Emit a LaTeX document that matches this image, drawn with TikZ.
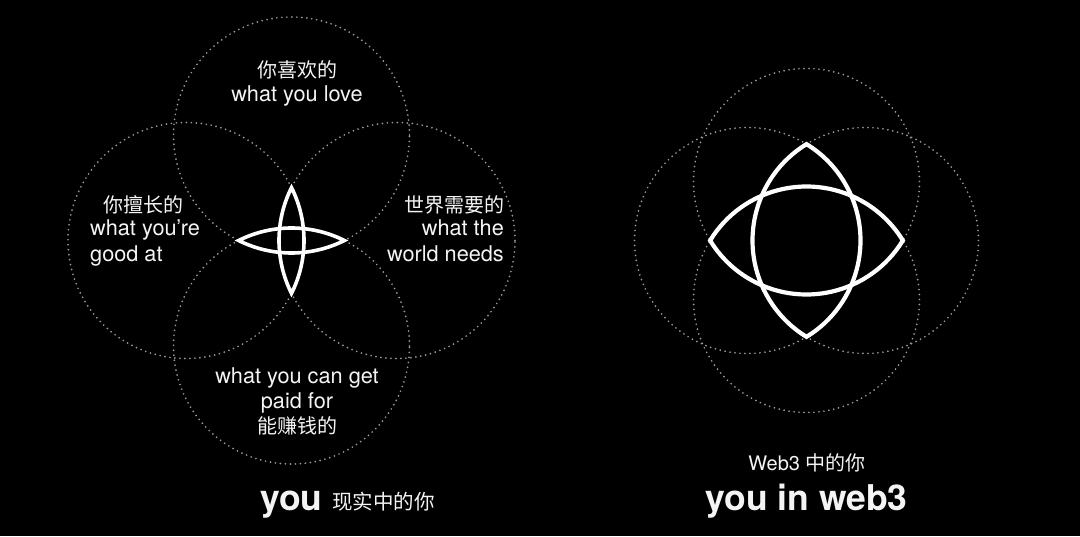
\documentclass[tikz,border=0pt]{standalone}
\usepackage{fontspec}
\setmainfont{TeX Gyre Heros}
\newfontfamily\cjk{Noto Sans CJK SC}
\definecolor{dotgray}{HTML}{9A9A9A}
\definecolor{txt}{HTML}{F4F4F4}
\newcommand\vennset[5]{%
  \pgfmathsetmacro\hh{sqrt(#4*#4-#3*#3)}%
  \pgfmathsetmacro\aa{atan(\hh/#3)}%
  \draw[dotc] (#1,#2+#3) circle[radius=#4];
  \draw[dotc] (#1,#2-#3) circle[radius=#4];
  \draw[dotc] (#1-#3,#2) circle[radius=#4];
  \draw[dotc] (#1+#3,#2) circle[radius=#4];
  \draw[lensline=#5] (#1,#2+\hh) arc[start angle=180-\aa, end angle=180+\aa, radius=#4]
     arc[start angle=-\aa, end angle=\aa, radius=#4] -- cycle;
  \draw[lensline=#5] (#1-\hh,#2) arc[start angle=90+\aa, end angle=90-\aa, radius=#4]
     arc[start angle=\aa-90, end angle=-90-\aa, radius=#4] -- cycle;
}
\begin{document}
\begin{tikzpicture}[x=1pt,y=1pt,
  dotc/.style={draw=dotgray, line width=1.9pt, line cap=round, dash pattern=on 0pt off 5pt},
  lensline/.style={draw=white, line width=#1, line join=miter, miter limit=30},
  lbl/.style={text=txt, font=\fontsize{21.7}{26}\selectfont, inner sep=0pt, anchor=base},
  clbl/.style={text=txt, font=\fontsize{20}{24}\selectfont\cjk, inner sep=0pt, anchor=base},
  ttl/.style={text=txt, font=\fontsize{35.5}{42}\selectfont\bfseries, inner sep=0pt, anchor=base}]
\fill[black] (0,0) rectangle (1080,536);
\useasboundingbox (0,0) rectangle (1080,536);
% left diagram
\vennset{291.5}{295.5}{105.5}{118}{3.6pt}
% right diagram
\vennset{806.5}{295.5}{59}{113}{4.2pt}
% top labels
\node[clbl] (t1) at (297,458.5) {你喜欢的};
\node[lbl] (t2) at (297,434.3) {what you love};
% left labels
\node[clbl, anchor=base west] (l1) at (103,323) {你擅长的};
\node[lbl, anchor=base west] (l2) at (90,300) {what you’re};
\node[lbl, anchor=base west] (l3) at (90,274) {good at};
% right labels
\node[clbl, anchor=base east] (r1) at (505,323) {世界需要的};
\node[lbl, anchor=base east] (r2) at (504,300) {what the};
\node[lbl, anchor=base east] (r3) at (504,274) {world needs};
% bottom labels
\node[lbl] (b1) at (297,152) {what you can get};
\node[lbl] (b2) at (297,127) {paid for};
\node[clbl] (b3) at (297,102) {能赚钱的};
% titles
\node[ttl, anchor=base west] (you) at (260,26) {you};
\node[clbl, anchor=base west, font=\fontsize{20.5}{24}\selectfont\cjk] (youcn) at (332,27) {现实中的你};
\node[lbl, font=\fontsize{20}{24}\selectfont] (w3cn) at (807,65) {Web3 {\cjk 中的你}};
\node[ttl] (w3) at (806.5,26) {you in web3};
\end{tikzpicture}
\end{document}
